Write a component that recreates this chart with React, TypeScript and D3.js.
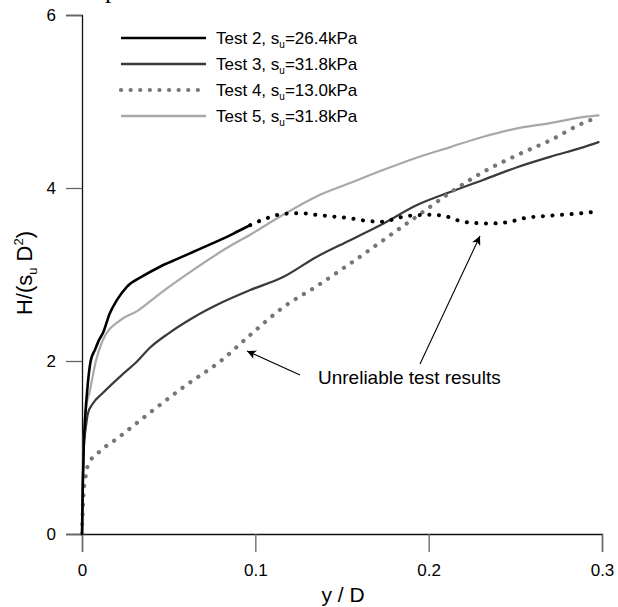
import React, { useEffect, useRef } from "react";
import { select, scaleLinear, line, axisLeft, axisBottom, curveMonotoneX } from "d3";

// Test 2 (solid part, then the unreliable dotted part)
const test2X = [0, 0.0005, 0.001, 0.002, 0.003, 0.005, 0.0075, 0.01, 0.012, 0.016, 0.02, 0.026, 0.035, 0.045, 0.055, 0.064, 0.073, 0.083, 0.09, 0.097];
const test2Y = [0, 0.6, 1.0, 1.4, 1.66, 2.0, 2.13, 2.25, 2.32, 2.55, 2.7, 2.86, 2.98, 3.09, 3.18, 3.26, 3.34, 3.43, 3.5, 3.57];
const test2bX = [0.097, 0.1065, 0.116, 0.1258, 0.135, 0.145, 0.1546, 0.1642, 0.1738, 0.1815, 0.1892, 0.2008, 0.2085, 0.2162, 0.2238, 0.2354, 0.2469, 0.2546, 0.27, 0.2892, 0.2979];
const test2bY = [3.57, 3.65, 3.7, 3.71, 3.69, 3.67, 3.65, 3.62, 3.61, 3.65, 3.68, 3.69, 3.68, 3.63, 3.6, 3.59, 3.61, 3.65, 3.68, 3.71, 3.73];

const test3X = [0, 0.0005, 0.001, 0.002, 0.0035, 0.006, 0.012, 0.022, 0.032, 0.039, 0.05, 0.064, 0.08, 0.097, 0.116, 0.135, 0.155, 0.174, 0.193, 0.212, 0.231, 0.251, 0.27, 0.289, 0.298];
const test3Y = [0, 0.6, 1.0, 1.2, 1.4, 1.5, 1.63, 1.82, 2.0, 2.15, 2.32, 2.5, 2.67, 2.82, 2.97, 3.2, 3.4, 3.59, 3.8, 3.95, 4.09, 4.24, 4.36, 4.47, 4.53];

const test4X = [0, 0.0005, 0.001, 0.002, 0.0035, 0.01, 0.02, 0.039, 0.06, 0.08, 0.097, 0.116, 0.135, 0.155, 0.174, 0.193, 0.212, 0.231, 0.251, 0.27, 0.289, 0.298];
const test4Y = [0, 0.3, 0.5, 0.65, 0.8, 0.95, 1.1, 1.4, 1.72, 2.0, 2.3, 2.62, 2.86, 3.13, 3.4, 3.67, 3.94, 4.18, 4.38, 4.55, 4.75, 4.82];

const test5X = [0, 0.0005, 0.001, 0.002, 0.0046, 0.008, 0.012, 0.022, 0.032, 0.045, 0.064, 0.083, 0.097, 0.116, 0.135, 0.155, 0.174, 0.193, 0.212, 0.231, 0.251, 0.27, 0.289, 0.298];
const test5Y = [0, 0.6, 1.1, 1.4, 1.66, 2.0, 2.24, 2.47, 2.58, 2.78, 3.05, 3.3, 3.46, 3.69, 3.9, 4.06, 4.21, 4.35, 4.47, 4.59, 4.69, 4.75, 4.82, 4.84];

const legendNames = ["Test 2", "Test 3", "Test 4", "Test 5"];
const legendSu = ["26.4", "31.8", "13.0", "31.8"];

const xMajor = [0, 0.1, 0.2, 0.3];
const xMinor = [0.05, 0.15, 0.25];
const yMajor = [0, 2, 4, 6];
const yMinor = [1, 3, 5];

const FONT = "Arial, 'Liberation Sans', sans-serif";

const App = () => {
  const svgRef = useRef(null);

  useEffect(() => {
    const svg = select(svgRef.current);
    svg.selectAll("*").remove();

    const x = scaleLinear().domain([0, 0.3]).range([82, 602]);
    const y = scaleLinear().domain([0, 6]).range([534, 15]);

    const path = line<[number, number]>()
      .x((d) => x(d[0]))
      .y((d) => y(d[1]))
      .curve(curveMonotoneX);
    const zip = (xs: number[], ys: number[]) =>
      xs.map((v, i) => [v, ys[i]] as [number, number]);

    const dotted = "0.1 9.5";
    const styles = [
      { color: "#000", width: 2.6, dash: null },
      { color: "#3a3a3a", width: 2.2, dash: null },
      { color: "#767676", width: 4.2, dash: dotted },
      { color: "#a8a8a8", width: 2.2, dash: null },
    ];

    // axes
    const gy = svg.append("g").attr("transform", `translate(${x(0)},0)`);
    gy.call(axisLeft(y).tickValues(yMinor).tickSize(8).tickFormat(() => ""));
    gy.call(
      axisLeft(y)
        .tickValues(yMajor)
        .tickSize(16)
        .tickPadding(10)
        .tickFormat((d: any) => String(d))
    );
    const gx = svg.append("g").attr("transform", `translate(0,${y(0)})`);
    gx.call(axisBottom(x).tickValues(xMinor).tickSize(9).tickFormat(() => ""));
    gx.call(
      axisBottom(x)
        .tickValues(xMajor)
        .tickSize(18)
        .tickPadding(12)
        .tickFormat((d: any) => (d === 0 ? "0" : String(d)))
    );
    svg.selectAll(".domain").attr("stroke", "#111").attr("stroke-width", 1.3);
    svg.selectAll(".tick line").attr("stroke", "#666").attr("stroke-width", 1.3);
    svg
      .selectAll(".tick text")
      .attr("font-family", FONT)
      .attr("font-size", 17)
      .attr("fill", "#000");

    // curves
    const series = [
      { data: zip(test3X, test3Y), s: styles[1] },
      { data: zip(test5X, test5Y), s: styles[3] },
      { data: zip(test4X, test4Y), s: styles[2] },
      { data: zip(test2X, test2Y), s: styles[0] },
      { data: zip(test2bX, test2bY), s: { color: "#000", width: 4, dash: dotted } },
    ];
    series.forEach(({ data, s }) => {
      svg
        .append("path")
        .attr("d", path(data))
        .attr("fill", "none")
        .attr("stroke", s.color)
        .attr("stroke-width", s.width)
        .attr("stroke-linecap", "round")
        .attr("stroke-linejoin", "round")
        .attr("stroke-dasharray", s.dash);
    });

    // legend
    const lg = svg.append("g");
    legendNames.forEach((name, i) => {
      const ly = 38 + i * 26;
      const s = styles[i];
      lg.append("line")
        .attr("x1", 121)
        .attr("x2", 206)
        .attr("y1", ly)
        .attr("y2", ly)
        .attr("stroke", s.color)
        .attr("stroke-width", s.dash ? 4.2 : 2.6)
        .attr("stroke-linecap", s.dash ? "round" : "butt")
        .attr("stroke-dasharray", s.dash);
      const t = lg
        .append("text")
        .attr("x", 216)
        .attr("y", ly + 6)
        .attr("font-family", FONT)
        .attr("font-size", 17);
      t.append("tspan").text(`${name}, s`);
      t.append("tspan").attr("font-size", 10).attr("dy", 4).text("u");
      t.append("tspan").attr("dy", -4).text(`=${legendSu[i]}kPa`);
    });

    // axis titles
    svg
      .append("text")
      .attr("x", 343)
      .attr("y", 602)
      .attr("text-anchor", "middle")
      .attr("font-family", FONT)
      .attr("font-size", 21)
      .text("y / D");

    const yt = svg
      .append("text")
      .attr("transform", "translate(32,273) rotate(-90)")
      .attr("text-anchor", "middle")
      .attr("font-family", FONT)
      .attr("font-size", 22);
    yt.append("tspan").text("H/(s");
    yt.append("tspan").attr("font-size", 13).attr("dy", 5).text("u");
    yt.append("tspan").attr("dy", -5).text(" D");
    yt.append("tspan").attr("font-size", 13).attr("dy", -9).text("2");
    yt.append("tspan").attr("dy", 9).text(")");

    // annotation
    svg
      .append("defs")
      .append("marker")
      .attr("id", "arrow")
      .attr("viewBox", "0 0 10 10")
      .attr("refX", 10)
      .attr("refY", 5)
      .attr("markerUnits", "userSpaceOnUse")
      .attr("markerWidth", 12)
      .attr("markerHeight", 9)
      .attr("orient", "auto")
      .append("path")
      .attr("d", "M0,0 L10,5 L0,10 L2.5,5 Z")
      .attr("fill", "#000");

    svg
      .append("text")
      .attr("x", 318)
      .attr("y", 384)
      .attr("font-family", FONT)
      .attr("font-size", 19)
      .text("Unreliable test results");
    [
      [300, 375, 247, 351],
      [420, 364, 480, 236],
    ].forEach(([x1, y1, x2, y2]) => {
      svg
        .append("line")
        .attr("x1", x1)
        .attr("y1", y1)
        .attr("x2", x2)
        .attr("y2", y2)
        .attr("stroke", "#000")
        .attr("stroke-width", 1.1)
        .attr("marker-end", "url(#arrow)");
    });

    // bit of the page caption cut off above the figure
    svg
      .append("text")
      .attr("x", 105)
      .attr("y", -2)
      .attr("font-family", "'Liberation Serif', 'Times New Roman', serif")
      .attr("font-size", 26)
      .text("p");
  }, []);

  return (
    <svg
      ref={svgRef}
      width={618}
      height={607}
      style={{ position: "absolute", left: 0, top: 0, background: "#fff" }}
    ></svg>
  );
};

export default App;
